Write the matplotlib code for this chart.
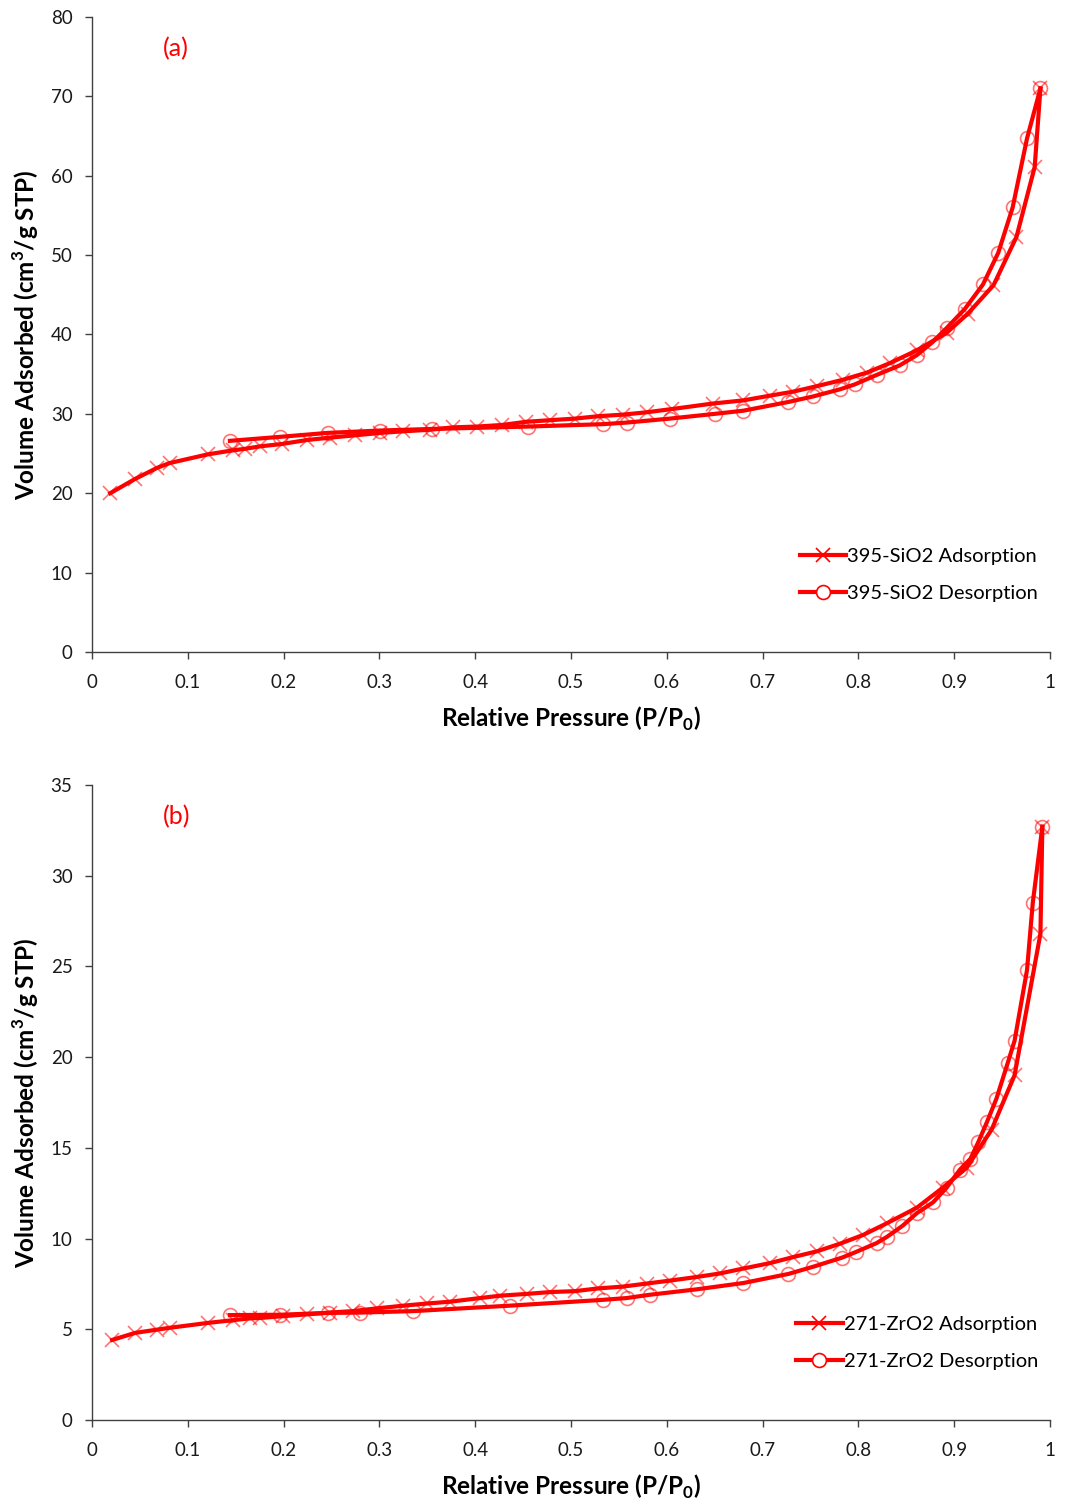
import numpy as np
import matplotlib.pyplot as plt

plt.rcParams['font.family'] = ['Lato', 'DejaVu Sans']

# (a) 395-SiO2 isotherm
p_ads_a = [0.019, 0.045, 0.068, 0.081, 0.121, 0.147, 0.160, 0.175, 0.198, 0.224,
           0.248, 0.275, 0.301, 0.325, 0.353, 0.377, 0.402, 0.428, 0.453, 0.478,
           0.504, 0.528, 0.554, 0.579, 0.605, 0.648, 0.680, 0.708, 0.732, 0.757,
           0.784, 0.809, 0.833, 0.861, 0.892, 0.914, 0.941, 0.965, 0.984, 0.990]
v_ads_a = [20.0, 21.8, 23.2, 23.8, 24.9, 25.4, 25.6, 25.9, 26.2, 26.7,
           27.0, 27.3, 27.6, 27.8, 28.0, 28.3, 28.4, 28.6, 29.0, 29.2,
           29.4, 29.7, 29.9, 30.2, 30.6, 31.3, 31.7, 32.3, 32.8, 33.5,
           34.3, 35.2, 36.4, 38.0, 40.2, 42.6, 46.2, 52.3, 61.1, 71.0]
p_des_a = [0.990, 0.976, 0.961, 0.946, 0.930, 0.911, 0.892, 0.877, 0.861, 0.843,
           0.819, 0.796, 0.781, 0.753, 0.727, 0.680, 0.650, 0.603, 0.558, 0.533,
           0.455, 0.355, 0.301, 0.246, 0.196, 0.144]
v_des_a = [71.0, 64.7, 56.0, 50.3, 46.3, 43.2, 40.8, 39.0, 37.4, 36.1,
           34.9, 33.7, 33.1, 32.2, 31.5, 30.4, 30.0, 29.4, 28.9, 28.7,
           28.4, 28.1, 27.9, 27.6, 27.1, 26.6]

# (b) 271-ZrO2 isotherm
p_ads_b = [0.021, 0.045, 0.068, 0.081, 0.121, 0.147, 0.165, 0.175, 0.199, 0.224,
           0.248, 0.272, 0.297, 0.325, 0.350, 0.374, 0.405, 0.426, 0.454, 0.478,
           0.504, 0.528, 0.554, 0.579, 0.603, 0.631, 0.656, 0.680, 0.708, 0.732,
           0.757, 0.781, 0.805, 0.830, 0.861, 0.888, 0.913, 0.939, 0.963, 0.990, 0.992]
v_ads_b = [4.41, 4.80, 4.98, 5.08, 5.35, 5.50, 5.60, 5.62, 5.72, 5.82,
           5.92, 6.00, 6.15, 6.30, 6.42, 6.52, 6.72, 6.85, 6.95, 7.05,
           7.10, 7.25, 7.35, 7.52, 7.68, 7.88, 8.08, 8.35, 8.65, 8.98,
           9.30, 9.72, 10.2, 10.85, 11.7, 12.8, 13.9, 16.0, 19.0, 26.8, 32.7]
p_des_b = [0.992, 0.982, 0.976, 0.963, 0.956, 0.944, 0.934, 0.925, 0.917, 0.906,
           0.892, 0.878, 0.861, 0.846, 0.830, 0.819, 0.797, 0.783, 0.753, 0.727,
           0.680, 0.631, 0.582, 0.558, 0.533, 0.436, 0.335, 0.280, 0.246, 0.196, 0.144]
v_des_b = [32.7, 28.5, 24.8, 20.9, 19.7, 17.7, 16.4, 15.3, 14.4, 13.8,
           12.8, 12.0, 11.4, 10.7, 10.1, 9.75, 9.25, 8.95, 8.45, 8.05,
           7.55, 7.20, 6.90, 6.72, 6.62, 6.30, 6.00, 5.92, 5.90, 5.80, 5.78]

panels = [
    ('(a)', '395-SiO2', p_ads_a, v_ads_a, p_des_a, v_des_a, 80, 10),
    ('(b)', '271-ZrO2', p_ads_b, v_ads_b, p_des_b, v_des_b, 35, 5),
]

fig = plt.figure(figsize=(10.66, 15.05), dpi=100)
boxes = [[0.0863, 0.5668, 0.8987, 0.4219], [0.0863, 0.0565, 0.8987, 0.4219]]
red = '#ff0000'
lw = 3.0

for box, (tag, name, pa, va, pd_, vd, ymax, ystep) in zip(boxes, panels):
    ax = fig.add_axes(box)
    ax.plot(pa, va, color=red, lw=lw, zorder=3)
    ax.plot(pd_, vd, color=red, lw=lw, zorder=3)
    ax.plot(pa, va, ls='none', marker='x', ms=10, mew=1.2, color=red, alpha=0.55, zorder=4)
    ax.plot(pd_, vd, ls='none', marker='o', ms=10, mew=1.2, mfc='none', mec=red, alpha=0.55, zorder=4)
    # legend proxies: line with its marker
    ax.plot([], [], color=red, lw=lw, marker='x', ms=10, mew=1.2, label=name + ' Adsorption')
    ax.plot([], [], color=red, lw=lw, marker='o', ms=10, mew=1.2, mfc='white',
            label=name + ' Desorption')

    ax.set_xlim(0, 1)
    ax.set_ylim(0, ymax)
    ax.set_xticks(np.arange(0, 1.01, 0.1))
    ax.set_xticklabels(['0'] + ['%.1f' % t for t in np.arange(0.1, 0.95, 0.1)] + ['1'])
    ax.set_yticks(np.arange(0, ymax + 0.1, ystep))
    for s in ['top', 'right']:
        ax.spines[s].set_visible(False)
    for s in ['left', 'bottom']:
        ax.spines[s].set_color('#404040')
        ax.spines[s].set_linewidth(1.0)
    ax.tick_params(direction='out', length=5, width=1.0, color='#404040',
                   labelsize=13.5, labelcolor='#1a1a1a')
    ax.tick_params(axis='x', pad=11)
    ax.tick_params(axis='y', pad=9)

    ax.set_xlabel('Relative Pressure (P/P$_\\mathregular{0}$)', fontsize=17.5,
                  fontweight='bold', labelpad=10)
    ax.set_ylabel('Volume Adsorbed (cm$^\\mathregular{3}$/g STP)', fontsize=17.5,
                  fontweight='bold', labelpad=7)
    ax.text(0.074, 0.95, tag, transform=ax.transAxes, color=red, fontsize=18,
            ha='left', va='center')

    ax.legend(loc='lower right', bbox_to_anchor=(1.0, 0.06), frameon=False,
              fontsize=14.5, handlelength=2.3, handletextpad=0.05, labelspacing=1.0,
              borderaxespad=0.2)

fig.savefig('out.png', dpi=100)
